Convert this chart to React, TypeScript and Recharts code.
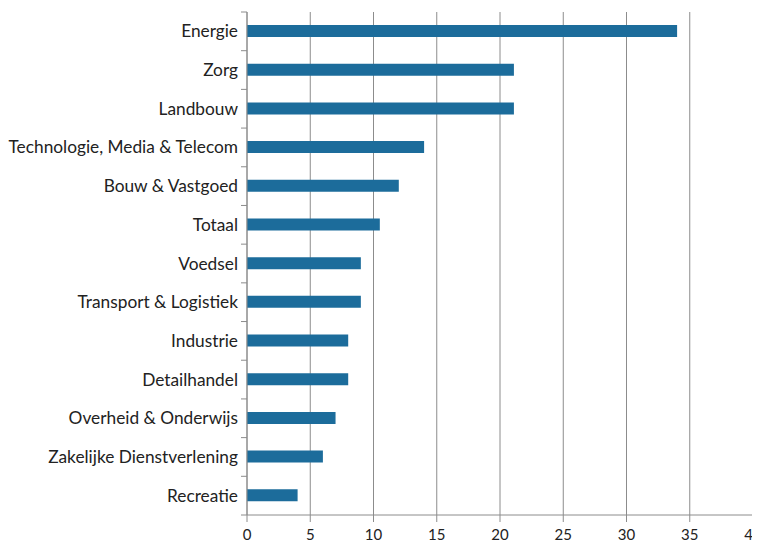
import React from 'react';
import { BarChart, Bar, XAxis, YAxis, CartesianGrid } from 'recharts';

const categories = [
  'Energie',
  'Zorg',
  'Landbouw',
  'Technologie, Media & Telecom',
  'Bouw & Vastgoed',
  'Totaal',
  'Voedsel',
  'Transport & Logistiek',
  'Industrie',
  'Detailhandel',
  'Overheid & Onderwijs',
  'Zakelijke Dienstverlening',
  'Recreatie',
];
const values = [34, 21.1, 21.1, 14, 12, 10.5, 9, 9, 8, 8, 7, 6, 4];
const xTicks = [0, 5, 10, 15, 20, 25, 30, 35, 40];

const data = categories.map((name, i) => ({ name, value: values[i] }));

const W = 752;
const H = 537;
const M = { top: 4, right: 7, left: 0, bottom: 0 };
const Y_W = 239;
const X_H = 30;
const BAND = (H - M.top - M.bottom - X_H) / categories.length;
const GRID = '#8c8c8c';
const FONT = 'Lato, "Open Sans", sans-serif';

const CatTick = (props: any) => {
  const { y, payload, index } = props;
  const ax = M.left + Y_W;
  const last = index === categories.length - 1;
  return (
    <g>
      <line x1={ax - 6} x2={ax} y1={y - BAND / 2} y2={y - BAND / 2} stroke={GRID} />
      {last && <line x1={ax - 6} x2={ax} y1={y + BAND / 2} y2={y + BAND / 2} stroke={GRID} />}
      <text x={ax - 9} y={y} dy="0.35em" textAnchor="end" fontSize={17.3} fill="#222" fontFamily={FONT}>
        {payload.value}
      </text>
    </g>
  );
};

export default function App() {
  return (
    <BarChart width={W} height={H} data={data} layout="vertical" margin={M} barSize={12}>
      <CartesianGrid horizontal={false} stroke={GRID} />
      <XAxis
        type="number"
        domain={[0, 40]}
        ticks={xTicks}
        interval={0}
        height={X_H}
        axisLine={{ stroke: GRID }}
        tickLine={{ stroke: GRID }}
        tickSize={7}
        tickMargin={7}
        tick={{ fontSize: 15, fill: '#222', fontFamily: FONT }}
      />
      <XAxis
        xAxisId="top"
        orientation="top"
        type="number"
        domain={[0, 40]}
        height={0}
        tick={false}
        tickLine={false}
        axisLine={{ stroke: GRID }}
      />
      <YAxis
        type="category"
        dataKey="name"
        width={Y_W}
        interval={0}
        axisLine={{ stroke: GRID }}
        tickLine={false}
        tick={<CatTick />}
      />
      <Bar dataKey="value" fill="#1c6c9b" isAnimationActive={false} />
    </BarChart>
  );
}
